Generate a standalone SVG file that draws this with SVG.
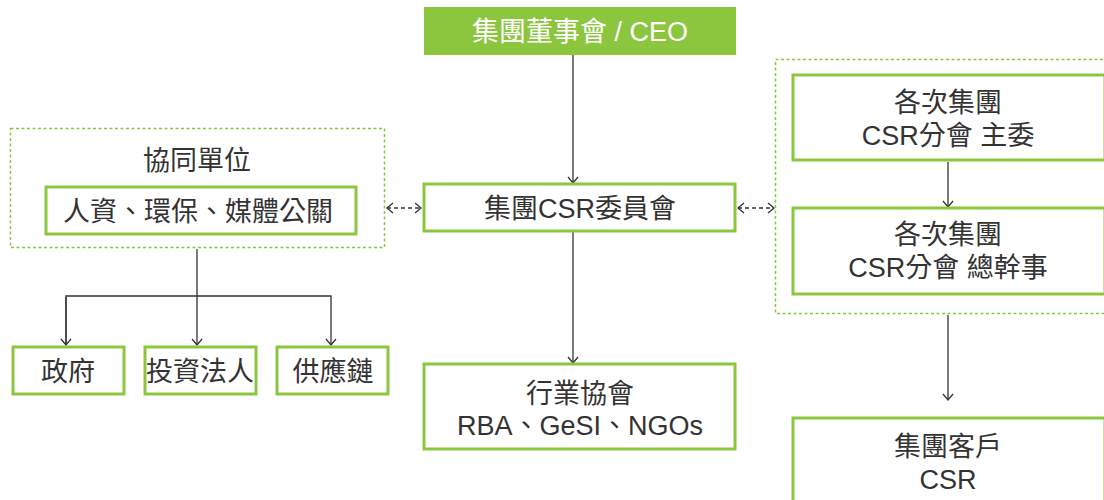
<svg xmlns="http://www.w3.org/2000/svg" width="1104" height="500" viewBox="0 0 1104 500">
<style>
.box{fill:#fff;stroke:#8cc63f;stroke-width:3}
.grp{fill:none;stroke:#8cc63f;stroke-width:1.5;stroke-dasharray:3 2.5}
.t{font-family:"Liberation Sans","Noto Sans CJK TC",sans-serif;font-size:27px;fill:#333;text-anchor:middle}
.w{fill:#fff}
.ln{fill:none;stroke:#333;stroke-width:1.3}
.dl{fill:none;stroke:#333;stroke-width:1.3;stroke-dasharray:4 3}
</style>
<defs>
<marker id="ah" viewBox="0 0 12 12" refX="11" refY="6" markerWidth="12" markerHeight="12" markerUnits="userSpaceOnUse" orient="auto-start-reverse">
<path d="M5,1 L11,6 L5,11" fill="none" stroke="#333" stroke-width="1.3"/>
</marker>
</defs>
<g id="connectors">
<path class="ln" d="M573,55 V183" marker-end="url(#ah)"/>
<path class="ln" d="M573,232 V363" marker-end="url(#ah)"/>
<path class="dl" d="M387,208 H421" marker-start="url(#ah)" marker-end="url(#ah)"/>
<path class="dl" d="M738,208 H774" marker-start="url(#ah)" marker-end="url(#ah)"/>
<path class="ln" d="M948,162 V207" marker-end="url(#ah)"/>
<path class="ln" d="M948,315 V400" marker-end="url(#ah)"/>
<path class="ln" d="M197,249 V345" marker-end="url(#ah)"/>
<path class="ln" d="M66,345 V296 H331 V345" marker-end="url(#ah)"/>
<path class="ln" d="M66,297 V345" marker-end="url(#ah)"/>
</g>
<g id="board">
<rect x="424" y="7" width="312" height="48" fill="#8cc63f"/>
<text class="t w" x="580" y="41">集團董事會 / CEO</text>
</g>
<g id="csr-committee">
<rect class="box" x="424" y="184" width="311" height="47"/>
<text class="t" x="580" y="218">集團CSR委員會</text>
</g>
<g id="partners">
<rect class="grp" x="10.5" y="128.5" width="374" height="119"/>
<text class="t" x="197" y="170">協同單位</text>
</g>
<g id="partners-inner">
<rect class="box" x="46" y="187" width="310" height="47"/>
<text class="t" x="198" y="221">人資、環保、媒體公關</text>
</g>
<g id="gov">
<rect class="box" x="13" y="347" width="111" height="47"/>
<text class="t" x="68" y="381">政府</text>
</g>
<g id="investors">
<rect class="box" x="145" y="347" width="111" height="47"/>
<text class="t" x="200" y="381">投資法人</text>
</g>
<g id="supply">
<rect class="box" x="277" y="347" width="111" height="47"/>
<text class="t" x="333" y="381">供應鏈</text>
</g>
<g id="industry">
<rect class="box" x="424" y="364" width="311" height="85"/>
<text class="t" x="580" y="403">行業協會</text>
<text class="t" x="580" y="435">RBA、GeSI、NGOs</text>
</g>
<g id="sub-group">
<rect class="grp" x="775.5" y="59.5" width="340" height="254"/>
</g>
<g id="sub-chair">
<rect class="box" x="793" y="75" width="312" height="85"/>
<text class="t" x="948" y="112">各次集團</text>
<text class="t" x="948" y="145">CSR分會 主委</text>
</g>
<g id="sub-secretary">
<rect class="box" x="793" y="208" width="312" height="86"/>
<text class="t" x="948" y="244">各次集團</text>
<text class="t" x="948" y="277">CSR分會 總幹事</text>
</g>
<g id="clients">
<rect class="box" x="793" y="418" width="312" height="90"/>
<text class="t" x="948" y="456">集團客戶</text>
<text class="t" x="948" y="489">CSR</text>
</g>
</svg>
